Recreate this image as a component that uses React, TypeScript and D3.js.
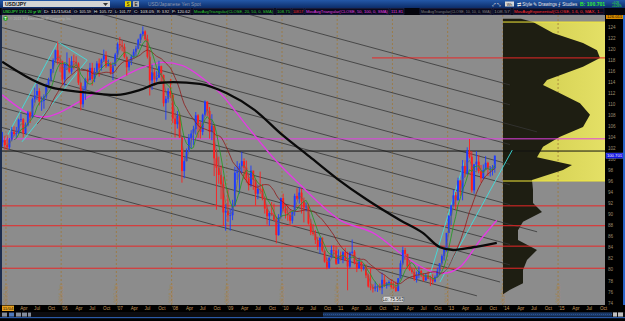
import React from "react";
import * as d3 from "d3";

// ---------- data ----------
const barStart = 2004 + 11 / 12; // half-month bars from Dec 2004
const firstOpen = 103.1;
const highs = [
  105.0, 104.3,
  104.5, 103.9, 105.9, 106.0, 105.9, 107.4, 108.3, 107.5, 106.7, 108.8, 108.7, 111.2, 113.0, 113.7, 112.9, 111.4, 111.8, 113.8, 114.8, 116.4, 118.3, 119.9, 121.4, 118.9,
  117.9, 117.5, 119.4, 118.4, 118.7, 119.0, 118.7, 117.6, 114.0, 113.3, 114.8, 116.4, 117.5, 117.5, 116.6, 117.8, 118.3, 118.3, 119.9, 119.6, 118.1, 117.6, 117.6, 119.3,
  121.2, 122.2, 121.6, 121.0, 118.6, 118.2, 119.0, 120.0, 120.6, 121.9, 122.8, 124.1, 123.4, 122.6, 119.8, 117.2, 116.5, 116.0, 117.9, 117.0, 115.4, 111.5, 112.9, 114.6,
  111.8, 108.4, 108.8, 108.3, 104.0, 100.5, 102.0, 104.6, 105.3, 106.1, 108.6, 108.2, 106.8, 108.3, 110.7, 110.5, 109.5, 108.2, 106.3, 101.9, 100.5, 98.9, 96.9, 91.9,
  94.6, 91.0, 92.7, 98.7, 99.7, 99.3, 101.4, 100.2, 99.8, 97.3, 98.9, 97.6, 96.4, 95.4, 97.8, 95.5, 93.3, 91.8, 90.6, 92.3, 92.0, 89.7, 90.1, 93.1,
  93.8, 91.9, 91.5, 91.0, 90.6, 93.8, 94.8, 95.0, 94.7, 93.1, 92.2, 92.0, 89.2, 88.3, 87.2, 86.0, 85.9, 85.9, 83.5, 82.2, 82.3, 84.4, 84.5, 84.3,
  83.7, 83.3, 83.4, 84.0, 83.3, 83.3, 85.5, 83.6, 81.9, 82.2, 81.4, 81.0, 81.0, 79.3, 80.2, 77.4, 77.9, 77.2, 77.5, 79.5, 79.0, 77.8, 78.1, 78.3,
  77.9, 77.9, 78.5, 81.7, 84.2, 84.0, 82.6, 81.8, 80.4, 80.2, 79.7, 80.6, 80.0, 79.4, 79.4, 79.7, 78.9, 79.2, 79.0, 80.4, 81.2, 82.8, 84.0, 86.7,
  89.9, 91.8, 94.5, 94.1, 96.7, 96.2, 99.9, 99.9, 102.2, 103.7, 101.5, 99.2, 101.5, 100.8, 99.0, 99.1, 100.6, 99.6, 98.8, 99.0, 100.7,
];
const lows = [
  102.3, 101.8,
  101.7, 101.9, 103.3, 104.2, 103.9, 104.6, 106.8, 104.0, 104.6, 106.0, 106.6, 107.5, 110.3, 110.8, 109.8, 108.8, 109.2, 111.0, 113.3, 114.1, 115.7, 117.6, 117.2, 115.9,
  113.6, 113.4, 116.2, 115.6, 115.5, 116.3, 116.7, 113.5, 108.9, 109.4, 110.8, 113.7, 114.3, 113.4, 114.0, 115.6, 115.0, 116.1, 117.7, 116.6, 116.9, 115.4, 114.4, 116.9,
  118.5, 119.9, 119.6, 118.3, 115.2, 116.1, 117.1, 118.3, 118.7, 120.0, 121.1, 122.4, 121.5, 118.3, 111.6, 112.6, 113.4, 114.1, 115.0, 113.8, 109.6, 107.2, 110.3, 111.1,
  106.6, 104.0, 105.6, 103.9, 95.8, 96.6, 99.7, 101.4, 102.0, 102.6, 104.5, 103.9, 103.8, 104.4, 107.8, 107.9, 103.8, 103.5, 97.0, 90.9, 95.6, 92.8, 88.0, 87.1,
  88.7, 87.1, 89.0, 91.5, 96.3, 93.8, 97.5, 96.4, 95.8, 94.4, 95.0, 94.5, 91.7, 92.8, 93.8, 92.6, 90.2, 88.2, 88.0, 89.8, 88.9, 84.8, 86.2, 89.3,
  90.6, 89.3, 88.9, 88.2, 88.4, 89.8, 92.6, 92.0, 90.2, 88.6, 90.6, 88.2, 86.3, 86.2, 84.7, 83.6, 82.9, 83.2, 81.3, 80.1, 80.2, 82.5, 82.6, 80.9,
  81.5, 81.7, 81.2, 81.6, 76.3, 80.3, 82.8, 81.0, 79.6, 80.2, 79.7, 79.9, 78.5, 76.8, 76.3, 75.9, 76.1, 76.0, 76.3, 75.6, 76.9, 76.6, 77.0, 76.6,
  76.5, 76.0, 76.1, 78.4, 80.9, 81.8, 80.3, 79.8, 79.3, 78.0, 77.7, 78.5, 78.7, 77.9, 78.0, 78.3, 77.1, 77.4, 77.7, 78.6, 79.1, 80.9, 81.7, 83.3,
  86.7, 88.1, 91.5, 90.9, 92.6, 93.4, 92.6, 96.8, 97.2, 100.2, 94.0, 93.8, 98.0, 97.5, 95.8, 96.4, 98.9, 97.0, 96.9, 97.1, 97.6,
];
const closes = [
  103.5, 102.6,
  102.2, 103.6, 105.0, 104.6, 104.8, 107.2, 107.3, 104.8, 106.2, 108.5, 107.6, 110.9, 111.6, 112.4, 110.5, 110.6, 111.4, 113.5, 114.4, 116.4, 118.0, 119.8, 117.9, 117.8,
  114.5, 117.2, 117.2, 115.9, 117.8, 117.7, 117.4, 113.9, 110.0, 112.5, 114.5, 114.4, 116.6, 114.6, 115.8, 117.4, 116.6, 118.1, 118.8, 116.9, 117.3, 115.8, 117.0, 119.0,
  120.9, 120.7, 120.4, 118.6, 116.7, 117.8, 118.6, 119.5, 120.1, 121.7, 122.7, 123.2, 121.8, 118.6, 114.3, 115.8, 114.5, 114.8, 116.9, 115.3, 110.2, 111.0, 112.4, 111.7,
  107.4, 106.4, 107.9, 104.0, 97.9, 99.7, 101.4, 103.9, 104.7, 105.5, 108.0, 106.2, 105.0, 108.1, 110.5, 108.8, 105.0, 106.1, 100.2, 98.5, 97.2, 95.5, 90.4, 90.7,
  89.9, 89.9, 91.6, 97.6, 97.8, 98.8, 99.7, 98.5, 96.6, 95.3, 98.0, 96.3, 93.8, 94.7, 94.6, 93.0, 91.1, 89.7, 90.3, 90.0, 89.1, 86.3, 89.6, 93.0,
  91.1, 90.3, 89.9, 88.9, 90.5, 93.4, 92.9, 94.0, 92.4, 91.3, 91.5, 88.4, 86.8, 86.5, 85.4, 84.2, 85.8, 83.5, 81.5, 80.4, 82.2, 83.6, 83.5, 81.1,
  82.6, 82.0, 83.2, 81.8, 80.6, 83.1, 83.3, 81.2, 80.3, 81.5, 80.2, 80.6, 79.0, 77.0, 76.8, 76.6, 77.0, 77.1, 76.7, 78.2, 77.1, 77.6, 77.8, 76.9,
  76.8, 76.2, 78.5, 81.2, 83.6, 82.9, 80.6, 80.0, 79.6, 78.4, 79.0, 79.8, 79.0, 78.1, 79.0, 78.4, 78.3, 77.9, 78.7, 79.8, 81.2, 82.5, 83.8, 86.7,
  89.8, 91.7, 93.5, 92.6, 96.2, 94.2, 98.8, 97.5, 101.6, 100.5, 94.4, 99.1, 99.6, 97.9, 96.6, 98.1, 99.4, 98.3, 98.4, 98.4, 100.7,
];

// long moving averages (time, price)
const sma200Times = [2004.93, 2005.8, 2006.39, 2007.01, 2007.43, 2007.79, 2008.03, 2008.51, 2009.0, 2009.5, 2010.0, 2010.5, 2011.0, 2011.54, 2012.14, 2012.55, 2012.86, 2013.1, 2013.46, 2013.89];
const sma200Values = [117.7, 113.1, 112.2, 111.7, 112.6, 113.9, 114.0, 113.7, 112.0, 109.0, 104.5, 100.5, 96.5, 92.7, 89.0, 86.7, 84.1, 83.6, 84.1, 84.9];
const sma100Times = [2004.93, 2005.67, 2006.39, 2007.01, 2007.43, 2007.85, 2008.2, 2008.55, 2008.9, 2009.33, 2009.87, 2010.33, 2011.05, 2011.65, 2012.26, 2012.63, 2012.92, 2013.22, 2013.59, 2013.89];
const sma100Values = [111.7, 107.7, 110.8, 114.4, 116.5, 117.6, 117.0, 114.8, 111.8, 106.5, 100.0, 95.4, 89.0, 86.7, 82.2, 80.0, 79.4, 80.5, 85.4, 89.0];

// channel lines (start price at channelT0, end time/price)
const channelT0 = 2004.89;
const channelStartPrices = [138.5, 134.9, 131.3, 127.6, 124.0, 120.4, 116.8, 113.1, 109.5, 105.9, 102.3, 98.6];
const channelEndTimes = [2014.13, 2014.13, 2014.62, 2014.13, 2014.13, 2014.13, 2014.13, 2014.62, 2014.13, 2014.13, 2013.95, 2013.53];
const channelEndPrices = [113.5, 109.9, 105.0, 102.7, 99.1, 95.4, 91.8, 86.9, 84.6, 80.9, 77.8, 75.3];

const cyan2005 = [[2004.98, 103.5], [2005.94, 121.3], [2006.47, 118.0], [2005.29, 103.2]];
const cyan2013a = [[2012.68, 79.1], [2013.31, 99.9]];
const cyan2013b = [[2012.86, 77.8], [2014.17, 101.7]];

const redLevels = [91.6, 88.0, 84.3, 80.3];
const redLevelHigh = 118.4;
const redLevelHighStart = 2011.63;
const magentaLevel = 103.74;
const blackLevel = 101.53;
const valueAreaHigh = 124.9;
const valueAreaLow = 96.1;
const lowValue = 75.563;

const profilePrices = [125.5, 124.9, 122.9, 121.1, 119.8, 118.4, 116.8, 114.4, 113.5, 112.0, 110.2, 108.1, 105.9, 104.1, 102.3, 100.4, 99.0, 98.1, 96.3, 94.5, 92.1, 90.5, 88.7, 87.2, 85.4, 83.6, 81.8, 80.0, 77.6, 76.4, 75.6];
const profileVolumes = [18, 30, 50, 80, 94, 97, 80, 44, 40, 57, 77, 87, 80, 57, 40, 34, 69, 60, 29, 30, 30, 39, 20, 15, 15, 34, 24, 20, 20, 7, 0];

const priceTicks = d3.range(74, 125, 2);
const years = d3.range(2005, 2016);
const quarterNames = ["Apr", "Jul", "Oct"];

const headerItems = [
  { x: 2, w: 40, t: "USDJPY 1Y:1 20 yr W", c: "#3cff3c" },
  { x: 43, w: 29, t: "D: 11/15/04", c: "#e0e0e0" },
  { x: 73, w: 19, t: "O: 105.59", c: "#e0e0e0" },
  { x: 93, w: 20, t: "H: 105.72", c: "#e0e0e0" },
  { x: 114, w: 18, t: "L: 101.77", c: "#e0e0e0" },
  { x: 133, w: 22, t: "C: 103.05", c: "#e0e0e0" },
  { x: 156, w: 14, t: "R: 3.92", c: "#e0e0e0" },
  { x: 171, w: 20, t: "P: 120.62", c: "#e0e0e0" },
  { x: 193, w: 81, t: "MovAvgTriangular(CLOSE, 20, 50, 0, SMA)", c: "#2ec82e" },
  { x: 276, w: 15, t: "108.75", c: "#2ec82e" },
  { x: 292, w: 12, t: "108.57", c: "#ff3030" },
  { x: 305, w: 84, t: "MovAvgTriangular(CLOSE, 50, 100, 0, SMA)", c: "#e040e0" },
  { x: 390, w: 14, t: "111.81", c: "#e040e0" },
  { x: 420, w: 72, t: "MovAvgTriangular(CLOSE, 10, 10, 0, SMA)", c: "#808080" },
  { x: 493, w: 18, t: "108.57", c: "#808080" },
  { x: 513, w: 91, t: "MovAvgExponential(CLOSE, 1.6, 0, MAX, 1...", c: "#ff3030" },
];

const FONT = "Liberation Sans, Arial, sans-serif";

export default function App() {
  const x = d3.scaleLinear().domain([2004.928, 2015.85]).range([2, 605]);
  const y = d3.scaleLinear().domain([74, 124]).range([303, 27]);
  const xv = d3.scaleLinear().domain([0, 100]).range([503, 603]);
  const tOf = (i: number) => barStart + (i + 0.5) / 24;

  const sma = (n: number) =>
    closes.map((_, i) => (i < n - 1 ? null : (d3.mean(closes.slice(i - n + 1, i + 1)) as number)));
  const maLine = d3
    .line<number | null>()
    .defined((d) => d != null)
    .x((_, i) => x(tOf(i)))
    .y((d) => y(d as number));

  const smoothLine = (ts: number[], vs: number[]) =>
    d3
      .line<number>()
      .x((t) => x(t))
      .y((_, i) => y(vs[i]))
      .curve(d3.curveMonotoneX)(ts) as string;

  const ptLine = d3
    .line<number[]>()
    .x((d) => x(d[0]))
    .y((d) => y(d[1]));

  const profileArea = d3
    .area<number>()
    .y((p) => y(p))
    .x0(503)
    .x1((_, i) => xv(profileVolumes[i]))(profilePrices) as string;

  const lowIndex = lows.indexOf(d3.min(lows) as number);
  const lastY = y(closes[closes.length - 1]);

  return (
    <svg
      width={625}
      height={321}
      style={{ position: "absolute", left: 0, top: 0, display: "block" }}
      fontFamily={FONT}
    >
      <defs>
        <clipPath id="plot">
          <rect x={2} y={15} width={603} height={290} />
        </clipPath>
        <linearGradient id="va" x1="0" x2="1" y1="0" y2="0">
          <stop offset="0%" stopColor="#b4ae3a" />
          <stop offset="40%" stopColor="#d6d254" />
          <stop offset="100%" stopColor="#e4e066" />
        </linearGradient>
        <linearGradient id="topbar" x1="0" x2="0" y1="0" y2="1">
          <stop offset="0%" stopColor="#2458a8" />
          <stop offset="100%" stopColor="#0c2c68" />
        </linearGradient>
      </defs>
      <rect x={0} y={0} width={625} height={321} fill="#000" />
      {/* plot background */}
      <rect x={2} y={15} width={603} height={290} fill="#8c8c8c" />
      <g clipPath="url(#plot)">
        {/* value area */}
        <rect x={503} y={y(valueAreaHigh)} width={102} height={y(valueAreaLow) - y(valueAreaHigh)} fill="url(#va)" />
        {/* year grid */}
        {years.map((yr) => (
          <g key={yr}>
            <line x1={x(yr)} x2={x(yr)} y1={15} y2={305} stroke="#a07838" strokeWidth={0.8} strokeDasharray="2,2" />
            <text transform={`translate(${x(yr) + 1.8},303) rotate(-90)`} fontSize={4.6} fill="#a88450">
              {`${yr} Jan`}
            </text>
          </g>
        ))}
        {/* volume profile */}
        <path d={profileArea} fill="#1e1e12" />
        {/* channel lines */}
        {channelStartPrices.map((p, i) => (
          <line
            key={i}
            x1={x(channelT0)}
            y1={y(p)}
            x2={x(channelEndTimes[i])}
            y2={y(channelEndPrices[i])}
            stroke="#363636"
            strokeWidth={0.8}
          />
        ))}
        {/* horizontal levels */}
        {redLevels.map((p) => (
          <line key={p} x1={2} x2={605} y1={y(p)} y2={y(p)} stroke="#e82828" strokeWidth={1} />
        ))}
        <line x1={x(redLevelHighStart)} x2={605} y1={y(redLevelHigh)} y2={y(redLevelHigh)} stroke="#e82828" strokeWidth={1} />
        <line x1={2} x2={605} y1={y(magentaLevel)} y2={y(magentaLevel)} stroke="#e040e0" strokeWidth={1} />
        <line x1={2} x2={605} y1={y(blackLevel)} y2={y(blackLevel)} stroke="#111" strokeWidth={1} />
        <line x1={503} x2={605} y1={y(valueAreaHigh)} y2={y(valueAreaHigh)} stroke="#f2e83a" strokeWidth={1} />
        <line x1={503} x2={605} y1={y(valueAreaLow)} y2={y(valueAreaLow)} stroke="#f2e83a" strokeWidth={1} />
        {/* cyan drawings */}
        <path d={ptLine(cyan2005) as string} fill="none" stroke="#3ee0e0" strokeWidth={0.9} />
        <path d={ptLine(cyan2013a) as string} fill="none" stroke="#3ee0e0" strokeWidth={0.9} />
        <path d={ptLine(cyan2013b) as string} fill="none" stroke="#3ee0e0" strokeWidth={0.9} />
        {/* long MA 100 */}
        <path d={smoothLine(sma100Times, sma100Values)} fill="none" stroke="#e23ce2" strokeWidth={1.4} />
        {/* bars */}
        {closes.map((c, i) => {
          const o = i === 0 ? firstOpen : closes[i - 1];
          const col = c >= o ? "#1e3cff" : "#ff1e1e";
          const cx = x(tOf(i));
          const top = y(Math.max(o, c));
          const h = Math.max(0.7, Math.abs(y(o) - y(c)));
          return (
            <g key={i}>
              <line x1={cx} x2={cx} y1={y(highs[i])} y2={y(lows[i])} stroke={col} strokeWidth={0.9} />
              <rect x={cx - 0.95} y={top} width={1.9} height={h} fill={col} />
            </g>
          );
        })}
        {/* short MAs */}
        <path d={maLine(sma(16)) as string} fill="none" stroke="#8e1c1c" strokeWidth={0.8} />
        <path d={maLine(sma(6)) as string} fill="none" stroke="#1e9a1e" strokeWidth={0.8} />
        <path d={maLine(sma(3)) as string} fill="none" stroke="#6a6a58" strokeWidth={0.7} />
        <path d={smoothLine(sma200Times, sma200Values)} fill="none" stroke="#0a0a0a" strokeWidth={2.3} />
        {/* low label */}
        <g transform={`translate(${x(tOf(lowIndex)) + 11},${y(lowValue) + 5})`}>
          <rect x={-11} y={-3} width={22} height={6} rx={2} fill="#d8d8d8" stroke="#606060" strokeWidth={0.5} />
          <text x={0} y={1.7} fontSize={4.5} textAnchor="middle" fill="#202020">
            {`Lo: ${lowValue}`}
          </text>
        </g>
        {/* copyright */}
        <circle cx={5.5} cy={18.5} r={2.4} fill="#2aa02a" />
        <text x={5.5} y={20.2} fontSize={4} textAnchor="middle" fill="#fff" fontWeight="bold">T</text>
        <text x={10} y={20.2} fontSize={3.6} fill="#b4b4b4" textLength={62} lengthAdjust="spacingAndGlyphs">
          © 2013 TD Ameritrade IP Company, Inc.
        </text>
      </g>
      {/* left edge */}
      <rect x={0} y={8} width={2} height={304} fill="#1c2c4c" />
      {/* right axis */}
      <rect x={605} y={8} width={20} height={304} fill="#000" />
      {priceTicks.map((p) => (
        <text key={p} x={608} y={y(p) + 1.6} fontSize={4.6} fill="#9c8e70">
          {p}
        </text>
      ))}
      <rect x={606} y={14} width={17} height={5} fill="#d88a00" />
      <text x={614.5} y={18} fontSize={3.8} textAnchor="middle" fill="#201000" textLength={15} lengthAdjust="spacingAndGlyphs">
        126.011
      </text>
      <rect x={606} y={lastY - 2.6} width={17} height={5.2} fill="#1414e0" stroke="#7090ff" strokeWidth={0.4} />
      <text x={614.5} y={lastY + 1.5} fontSize={3.8} textAnchor="middle" fill="#fff" textLength={15} lengthAdjust="spacingAndGlyphs">
        100.701
      </text>
      <rect x={623} y={8} width={2} height={309} fill="#2a64c8" />
      {/* time axis */}
      <rect x={0} y={305} width={625} height={7} fill="#000" />
      {years.map((yr) =>
        [0, 1, 2, 3].map((q) => {
          const t = yr + q / 4;
          if (t < 2005.2 || x(t) > 604) return null;
          const label = q === 0 ? `'${String(yr).slice(2)}` : quarterNames[q - 1];
          return (
            <text key={`${yr}-${q}`} x={x(t) + 0.5} y={310.3} fontSize={4.6} fill="#c89a5c">
              {label}
            </text>
          );
        })
      )}
      <rect x={2} y={305.6} width={12} height={5.4} fill="#e6a020" />
      <text x={8} y={310} fontSize={4.4} textAnchor="middle" fill="#201000">11/04</text>
      {/* bottom bar */}
      <rect x={0} y={312} width={625} height={5} fill="#0c0c10" />
      {[2, 9, 16, 22, 28].map((bx, i) => (
        <rect key={bx} x={bx} y={312.6} width={i === 4 ? 3 : 5} height={4} fill={i === 1 ? "#5a8cd8" : "#9aa4b4"} opacity={0.85} />
      ))}
      <rect x={323} y={312.4} width={289} height={4.2} fill="#1a3866" />
      <line x1={323} x2={612} y1={314.5} y2={314.5} stroke="#2a5290" strokeWidth={1} strokeDasharray="1,1" />
      <rect x={613} y={312.4} width={4} height={4.2} fill="#c0c0c0" />
      <rect x={618} y={312.4} width={5} height={4.2} fill="#c0c0c0" />
      <rect x={0} y={317} width={625} height={1.2} fill="#2a5aa8" />
      {/* top bar */}
      <rect x={0} y={0} width={625} height={8} fill="url(#topbar)" />
      <rect x={3} y={1} width={107} height={6} fill="#d4d4d4" />
      <text x={5} y={6} fontSize={5} fill="#111" fontWeight="bold">USD/JPY</text>
      <path d="M103,3 L108,3 L105.5,6 Z" fill="#333" />
      <rect x={125} y={1.2} width={6} height={5.6} fill="#e8d400" />
      <text x={128} y={6} fontSize={4.5} textAnchor="middle" fill="#000">S</text>
      <rect x={133} y={1.2} width={6} height={5.6} fill="#b8b8b8" />
      <text x={136} y={6} fontSize={4.5} textAnchor="middle" fill="#000">E</text>
      <text x={148} y={6} fontSize={4.8} fill="#8c98b0">USD/Japanese Yen Spot</text>
      <text x={492} y={6} fontSize={4.5} fill="#e8e8e8">⤢ ⤡</text>
      <rect x={505} y={1.5} width={9} height={5} fill="#d8d8d8" />
      <text x={509.5} y={5.6} fontSize={3.6} textAnchor="middle" fill="#111">Wh</text>
      <text x={517} y={6} fontSize={4.5} fill="#e8e8e8">⇄ Style</text>
      <text x={533} y={6} fontSize={4.5} fill="#e8e8e8">✎ Drawings</text>
      <text x={558} y={6} fontSize={4.5} fill="#e8e8e8">⨍ Studies</text>
      <text x={580} y={6.2} fontSize={5.1} fill="#30f030" fontWeight="bold">B: 100.701</text>
      <text x={612} y={3.6} fontSize={2.8} fill="#30f030">+0.26</text>
      <text x={612} y={7} fontSize={2.8} fill="#30f030">+0.26%</text>
      {/* study header strip */}
      <rect x={0} y={8} width={625} height={7} fill="#04040c" />
      {headerItems.map((it, i) => {
        const fs = Math.min(4.4, (it.w - 2) / (it.t.length * 0.56));
        return (
          <g key={i}>
            <rect x={it.x} y={8.6} width={it.w} height={5.8} fill="#0a0a1e" stroke="#2a3060" strokeWidth={0.5} />
            <text x={it.x + 1} y={13.2} fontSize={fs} fill={it.c} textLength={it.w - 2} lengthAdjust="spacingAndGlyphs">
              {it.t}
            </text>
          </g>
        );
      })}
    </svg>
  );
}
